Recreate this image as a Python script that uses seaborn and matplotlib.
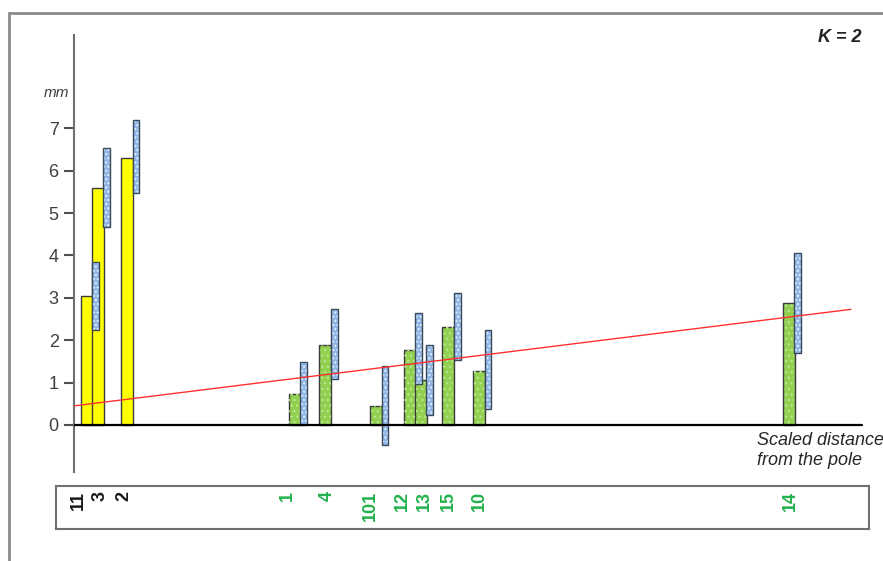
import pandas as pd
import numpy as np
import matplotlib
matplotlib.use("Agg")
import matplotlib.pyplot as plt
from matplotlib.patches import Rectangle
import seaborn as sns

# 数据
labels = ["11", "3", "2", "1", "4", "101", "12", "13", "15", "10", "14"]
pos = [0.016, 0.030, 0.067, 0.280, 0.319, 0.383, 0.426, 0.440, 0.475, 0.514, 0.907]
values = [3.05, 5.60, 6.30, 0.73, 1.89, 0.45, 1.77, 1.06, 2.31, 1.27, 2.88]
low = [2.24, 4.67, 5.47, 0.00, 1.08, -0.47, 0.97, 0.24, 1.53, 0.38, 1.70]
high = [3.84, 6.53, 7.20, 1.49, 2.73, 1.39, 2.64, 1.89, 3.11, 2.24, 4.06]
group = ["yellow"] * 3 + ["green"] * 8
label_x = [0.005, 0.033, 0.063, 0.271, 0.322, 0.376, 0.417, 0.445, 0.475, 0.515, 0.909]
yticks = [0, 1, 2, 3, 4, 5, 6, 7]
# 趋势线
trend_x = [0.0, 0.986]
trend_b, trend_k = 0.45, 2.31

df = pd.DataFrame({"pos": pos, "value": values, "low": low, "high": high,
                   "group": group, "label": labels})

sns.set_style("white")
plt.rcParams["font.family"] = ["Liberation Sans", "DejaVu Sans"]
plt.rcParams["hatch.linewidth"] = 1.0

W, H = 883, 561
fig = plt.figure(figsize=(W / 100, H / 100), dpi=100)
x0, x1 = 74, 788  # px of x=0, px per unit
ax = fig.add_axes([x0 / W, 1 - 472 / H, (W - x0) / W, (472 - 35) / H])

bar_w = 0.0155
min_gap = np.min(np.diff(np.unique(df["pos"])))
sns.barplot(data=df, x="pos", y="value", hue="group", native_scale=True,
            palette={"yellow": "#ffff00", "green": "#92d050"}, saturation=1,
            width=bar_w / min_gap, dodge=False, legend=False,
            edgecolor="#3a3a3a", linewidth=1.0, ax=ax, zorder=2)

# 绿色柱子上的点状纹理
green = df[df["group"] == "green"]
ax.bar(green["pos"], green["value"], width=bar_w * 0.85, fill=False, hatch="...",
       edgecolor="#b9e38f", linewidth=0, zorder=2.5)

# 蓝色范围条
blue_off, blue_w = 0.0115, 0.0085
ax.bar(df["pos"] + blue_off, df["high"] - df["low"], bottom=df["low"],
       width=blue_w, color="#8fb6e6", hatch="....", edgecolor="#e6f0fb",
       linewidth=0, zorder=3)
ax.bar(df["pos"] + blue_off, df["high"] - df["low"], bottom=df["low"],
       width=blue_w, fill=False, edgecolor="#3a4a5a", linewidth=1.0, zorder=3.5)

# 红色趋势线
tx = np.array(trend_x)
sns.lineplot(x=tx, y=trend_b + trend_k * tx, color="#ff3030", linewidth=1.0,
             ax=ax, zorder=4)

xmax = (W - x0) / x1
ax.axhline(0, xmin=0, xmax=1.0 / xmax, color="black", linewidth=1.6, zorder=5)
ax.set_xlim(0, xmax)
ax.set_ylim(-1.11, 9.2)

for s in ["top", "right", "bottom"]:
    ax.spines[s].set_visible(False)
ax.spines["left"].set_color("#707070")
ax.spines["left"].set_linewidth(1.5)
ax.set_xticks([])
ax.set_yticks(yticks)
ax.set_yticklabels([str(v) for v in yticks], fontsize=13, color="#404040")
ax.tick_params(axis="y", left=True, direction="out", length=7, width=1.5,
               color="#505050", pad=4)
ax.set_xlabel("")
ax.set_ylabel("")

ax.text(-0.022, 7.83, "mm", style="italic", fontsize=11, color="#404040",
        ha="center", va="center", clip_on=False)
ax.text(0.867, -0.17, "Scaled distance\nfrom the pole", style="italic",
        fontsize=13, ha="left", va="top", linespacing=1.25, clip_on=False)
fig.text(862 / W, 1 - 38 / H, "K = 2", fontsize=13, fontweight="bold",
         style="italic", ha="right", va="center", color="#222222")

# 下方标签框
bx = fig.add_axes([56 / W, 1 - 529 / H, (869 - 56) / W, 43 / H])
bx.set_xlim((56 - x0) / x1, (869 - x0) / x1)
bx.set_ylim(0, 1)
bx.set_xticks([])
bx.set_yticks([])
for s in bx.spines.values():
    s.set_color("#707070")
    s.set_linewidth(1.5)
for lx, lab, g in zip(label_x, labels, group):
    bx.text(lx, 0.88, lab, rotation=90, ha="center", va="top", fontsize=13,
            fontweight="bold", color="#1a1a1a" if g == "yellow" else "#22b14c")

# 外框
fig.add_artist(Rectangle((9 / W, -0.1), 1.2, 1 - 13 / H + 0.1,
                         transform=fig.transFigure, fill=False,
                         edgecolor="#8a8a8a", linewidth=2))

fig.savefig("out.png", dpi=100)
